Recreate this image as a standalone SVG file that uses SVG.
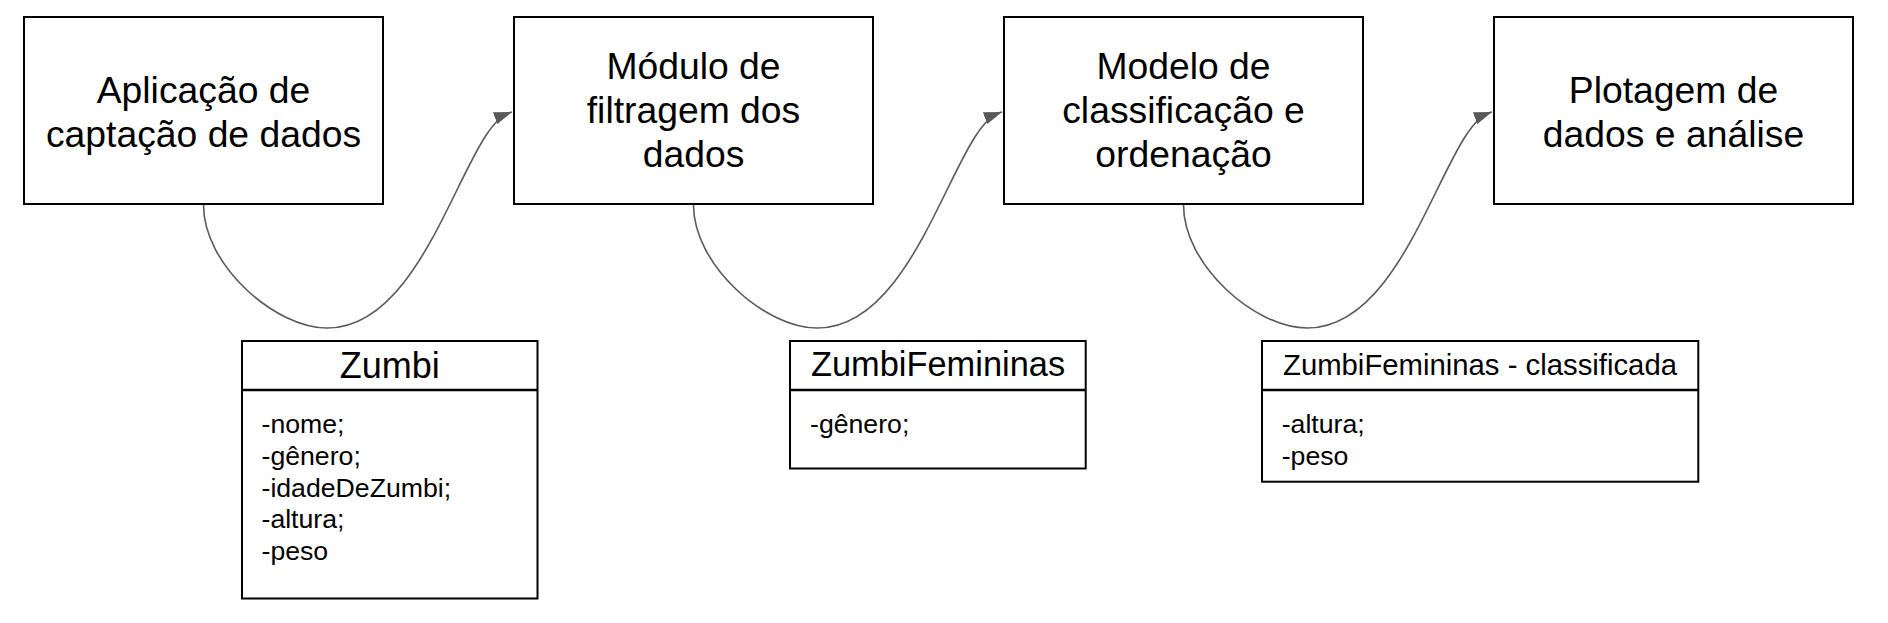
<svg xmlns="http://www.w3.org/2000/svg" width="1888" height="623" viewBox="0 0 1888 623">
<style>
.box{fill:#fff;stroke:#000;stroke-width:2}
.cls{fill:#fff;stroke:#000;stroke-width:2}
.div{stroke:#000;stroke-width:2.5}
.t{font-family:"Liberation Sans",Arial,sans-serif;fill:#000}
.big{font-size:37.3px;text-anchor:middle}
.hdr{font-size:35px;text-anchor:middle}
.attr{font-size:26.67px}
.con{fill:none;stroke:#595959;stroke-width:1.6}
</style>
<defs>
<marker id="arr" markerUnits="userSpaceOnUse" markerWidth="19" markerHeight="13" refX="18" refY="6.3" orient="-20" viewBox="0 0 19 13">
<path d="M0,0 L18,6.3 L0,12.6 z" fill="#595959"/>
</marker>
</defs>
<rect width="1888" height="623" fill="#fff"/>
<g id="connectors">
<path class="con" marker-end="url(#arr)" d="M203.5,205 C203.5,265 275,328 327,328 C430,328 465,120 512,112"/>
<path class="con" marker-end="url(#arr)" d="M693.5,205 C693.5,265 765,328 817,328 C920,328 955,120 1002,112"/>
<path class="con" marker-end="url(#arr)" d="M1183.5,205 C1183.5,265 1255,328 1307,328 C1410,328 1445,120 1492,112"/>
</g>
<g id="box1">
<rect class="box" x="24" y="17" width="359" height="187"/>
<text class="t big" x="203.5" y="102.5">Aplicação de</text>
<text class="t big" x="203.5" y="146.5">captação de dados</text>
</g>
<g id="box2">
<rect class="box" x="514" y="17" width="359" height="187"/>
<text class="t big" x="693.5" y="79">Módulo de</text>
<text class="t big" x="693.5" y="123">filtragem dos</text>
<text class="t big" x="693.5" y="167">dados</text>
</g>
<g id="box3">
<rect class="box" x="1004" y="17" width="359" height="187"/>
<text class="t big" x="1183.5" y="79">Modelo de</text>
<text class="t big" x="1183.5" y="123">classificação e</text>
<text class="t big" x="1183.5" y="167">ordenação</text>
</g>
<g id="box4">
<rect class="box" x="1494" y="17" width="359" height="187"/>
<text class="t big" x="1673.5" y="102.5">Plotagem de</text>
<text class="t big" x="1673.5" y="146.5">dados e análise</text>
</g>
<g id="class-zumbi">
<rect class="cls" x="242" y="341" width="295.5" height="257.5"/>
<line class="div" x1="242" y1="390" x2="537.5" y2="390"/>
<text class="t hdr" x="389.7" y="378.3" style="font-size:36px">Zumbi</text>
<text class="t attr" x="261.5" y="433.3">-nome;</text>
<text class="t attr" x="261.5" y="465">-gênero;</text>
<text class="t attr" x="261.5" y="496.7">-idadeDeZumbi;</text>
<text class="t attr" x="261.5" y="528.3">-altura;</text>
<text class="t attr" x="261.5" y="560">-peso</text>
</g>
<g id="class-zumbifemininas">
<rect class="cls" x="790" y="341" width="295.7" height="127.5"/>
<line class="div" x1="790" y1="390" x2="1085.7" y2="390"/>
<text class="t hdr" x="938" y="375.5" style="font-size:34.4px">ZumbiFemininas</text>
<text class="t attr" x="810" y="433.3">-gênero;</text>
</g>
<g id="class-classificada">
<rect class="cls" x="1262" y="341" width="436.3" height="140.7"/>
<line class="div" x1="1262" y1="390" x2="1698.3" y2="390"/>
<text class="t hdr" x="1480" y="374.5" style="font-size:29.3px">ZumbiFemininas - classificada</text>
<text class="t attr" x="1281.7" y="433.3">-altura;</text>
<text class="t attr" x="1281.7" y="465">-peso</text>
</g>
</svg>
